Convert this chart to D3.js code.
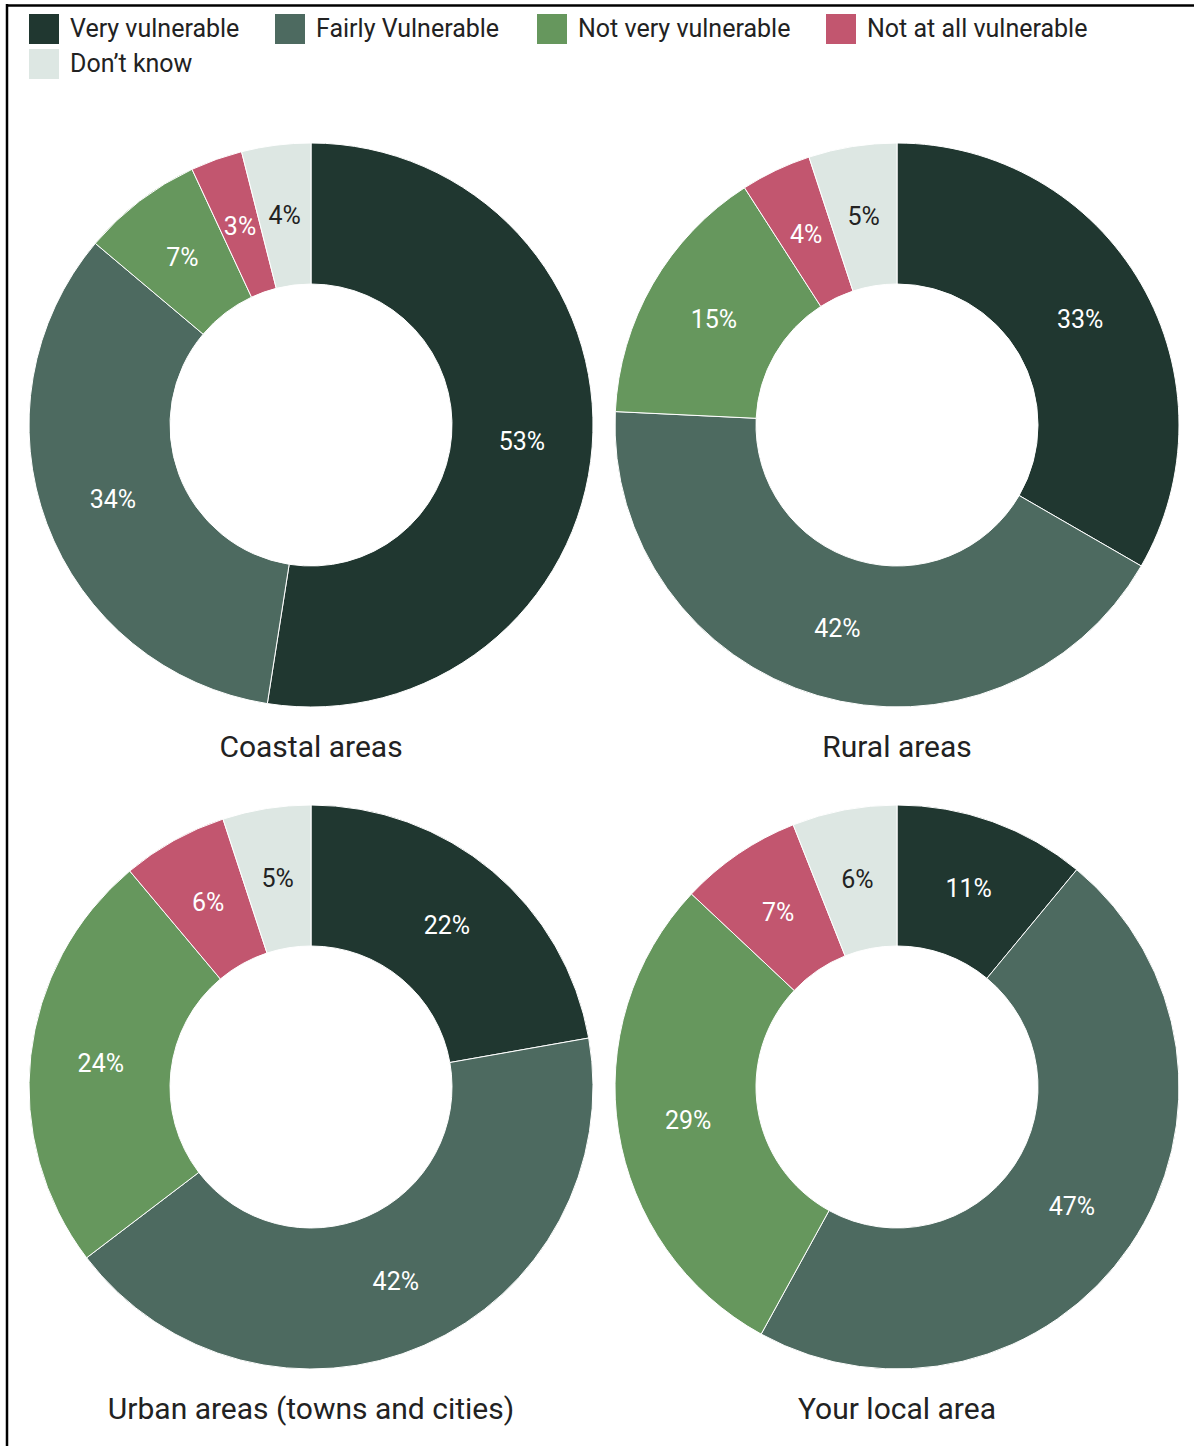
<!DOCTYPE html>
<html>
<head>
<meta charset="utf-8">
<script src="https://cdn.jsdelivr.net/npm/d3@7"></script>
<style>
  html, body { margin: 0; padding: 0; background: #fff; }
  svg { display: block; font-family: Roboto, "Noto Sans", sans-serif; }
</style>
</head>
<body>
<svg id="chart" width="1194" height="1446"></svg>
<script>
// Response categories, in drawing order (clockwise from 12 o'clock)
const categories = ["Very vulnerable", "Fairly Vulnerable", "Not very vulnerable", "Not at all vulnerable", "Don\u2019t know"];
const colors = ["#203730", "#4d6a60", "#66975d", "#c2566f", "#dde7e3"];

// Share of respondents (%) per area
const areas = ["Coastal areas", "Rural areas", "Urban areas (towns and cities)", "Your local area"];
const coastal = [53, 34, 7, 3, 4];
const rural = [33, 42, 15, 4, 5];
const urban = [22, 42, 24, 6, 5];
const local = [11, 47, 29, 7, 6];
const series = [coastal, rural, urban, local];

const W = 1194, H = 1446;
const svg = d3.select("#chart");

// frame lines along top and left edges
svg.append("line").attr("x1", 7).attr("x2", W).attr("y1", 5.5).attr("y2", 5.5)
  .attr("stroke", "#000").attr("stroke-width", 2.5);
svg.append("line").attr("x1", 7).attr("x2", 7).attr("y1", 4).attr("y2", H)
  .attr("stroke", "#000").attr("stroke-width", 2.5);

// legend
const legendPos = [[29, 14], [275, 14], [537, 14], [826, 14], [29, 49]];
const legend = svg.append("g");
categories.forEach((c, i) => {
  const g = legend.append("g").attr("transform", `translate(${legendPos[i][0]},${legendPos[i][1]})`);
  g.append("rect").attr("width", 30).attr("height", 30).attr("fill", colors[i]);
  g.append("text").attr("x", 41).attr("y", 23).attr("font-size", 25).attr("fill", "#222").text(c);
});

// 2x2 grid of donuts
const color = d3.scaleOrdinal().domain(categories).range(colors);
const col = d3.scalePoint().domain([0, 1]).range([311, 897]);
const row = d3.scalePoint().domain([0, 1]).range([425, 1087]);
const outerR = 282, innerR = 141;
const pie = d3.pie().sort(null).value(d => d.value);
const arc = d3.arc().innerRadius(innerR).outerRadius(outerR);

series.forEach((vals, k) => {
  const cx = col(k % 2), cy = row(Math.floor(k / 2));
  const g = svg.append("g").attr("transform", `translate(${cx},${cy})`);
  const data = pie(vals.map((v, i) => ({ cat: categories[i], value: v })));
  g.selectAll("path").data(data).join("path")
    .attr("d", arc)
    .attr("fill", d => color(d.data.cat))
    .attr("stroke", "#fff").attr("stroke-width", 1);
  g.selectAll("text.val").data(data).join("text")
    .attr("class", "val")
    .attr("transform", d => `translate(${arc.centroid(d)})`)
    .attr("text-anchor", "middle").attr("dy", "0.35em")
    .attr("font-size", 25)
    .attr("fill", d => d.data.cat === categories[4] ? "#222" : "#fff")
    .text(d => d.data.value + "%");
  g.append("text")
    .attr("y", outerR + 50).attr("text-anchor", "middle")
    .attr("font-size", 30).attr("fill", "#222")
    .text(areas[k]);
});
</script>
</body>
</html>
